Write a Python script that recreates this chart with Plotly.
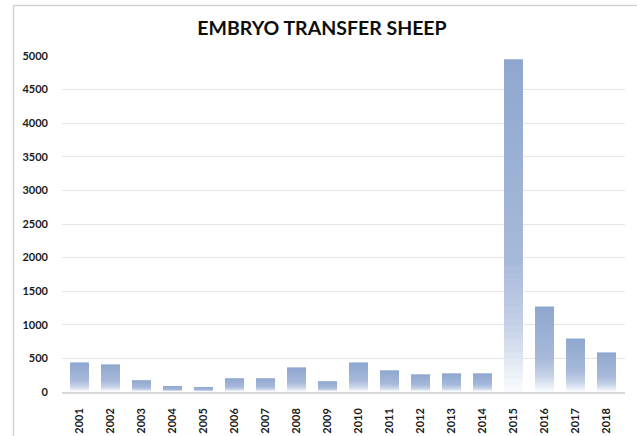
import plotly.graph_objects as go

years = ["2001", "2002", "2003", "2004", "2005", "2006", "2007", "2008", "2009",
         "2010", "2011", "2012", "2013", "2014", "2015", "2016", "2017", "2018"]
transfers = [440, 411, 173, 84, 69, 203, 203, 366, 158,
             440, 322, 262, 277, 277, 4950, 1272, 797, 589]
y_ticks = [0, 500, 1000, 1500, 2000, 2500, 3000, 3500, 4000, 4500, 5000]
title_text = "EMBRYO TRANSFER SHEEP"

# gradient stops (fraction from top of bar -> colour)
stops = [(0.0, (0x8F, 0xA7, 0xCF)), (0.6, (0xA7, 0xB9, 0xDA)),
         (0.8, (0xC5, 0xD1, 0xE7)), (1.0, (0xFB, 0xFC, 0xFE))]


def grad(t):
    for (t0, c0), (t1, c1) in zip(stops[:-1], stops[1:]):
        if t <= t1:
            f = (t - t0) / (t1 - t0) if t1 > t0 else 0
            c = [round(a + (b - a) * f) for a, b in zip(c0, c1)]
            return "rgb(%d,%d,%d)" % tuple(c)
    return "rgb(%d,%d,%d)" % stops[-1][1]


N = 50
fig = go.Figure()
for k in range(N):
    frac = (N - k) / N
    fig.add_trace(go.Bar(
        x=years,
        y=[v * frac for v in transfers],
        marker=dict(color=grad((k + 0.5) / N), line=dict(width=0)),
        hoverinfo="skip" if k else "x+y",
        showlegend=False,
    ))

L, R, T, B = 62, 12, 56, 44
W, H = 637, 436
pw, ph = W - L - R, H - T - B
step = 31.0          # pixels per category (integer so bar edges are crisp)
first_edge = 64.0    # pixel where category band 0 starts
x_range = [-0.5 - (first_edge - L) / step, -0.5 + (L + pw - first_edge) / step]


def px2x(px):
    return (px - L) / pw


def py2y(py):
    return (H - B - py) / ph


frame = "#D4D4D4"
fig.add_shape(type="line", xref="paper", yref="paper",
              x0=px2x(13.5), x1=px2x(13.5), y0=py2y(5.5), y1=py2y(445),
              line=dict(color=frame, width=1.5))
fig.add_shape(type="line", xref="paper", yref="paper",
              x0=px2x(13.5), x1=px2x(645), y0=py2y(5.5), y1=py2y(5.5),
              line=dict(color=frame, width=1.5))

fig.update_layout(
    width=W, height=H,
    margin=dict(l=L, r=R, t=T, b=B, pad=0, autoexpand=False),
    paper_bgcolor="white", plot_bgcolor="white",
    barmode="overlay", bargap=12 / 31,
    title=dict(text="<b>%s</b>" % title_text, x=0.5055, xref="container", xanchor="center",
               y=1 - 28.5 / H, yref="container", yanchor="middle",
               font=dict(family="Lato", size=19.5, color="#0d0d0d")),
    font=dict(family="Lato", size=11, color="#1a1a1a"),
    xaxis=dict(type="category", range=x_range, tickangle=-90, showline=True,
               linecolor="#D9D9D9", linewidth=1.5, showgrid=False, ticks="",
               ticklabelstandoff=10, automargin=False,
               tickfont=dict(family="Lato", size=11, color="#1a1a1a", weight="bold")),
    yaxis=dict(range=[0, 5000], tickvals=y_ticks, ticktext=[str(v) for v in y_ticks],
               showgrid=True, gridcolor="#E6E6E6", gridwidth=1, zeroline=False,
               showline=False, ticks="", ticklabelstandoff=13, automargin=False,
               tickfont=dict(family="Lato", size=11, color="#1a1a1a", weight="bold")),
)

fig.write_html("out.html", config={"displayModeBar": False},
               post_script="document.body.style.margin='0';")
